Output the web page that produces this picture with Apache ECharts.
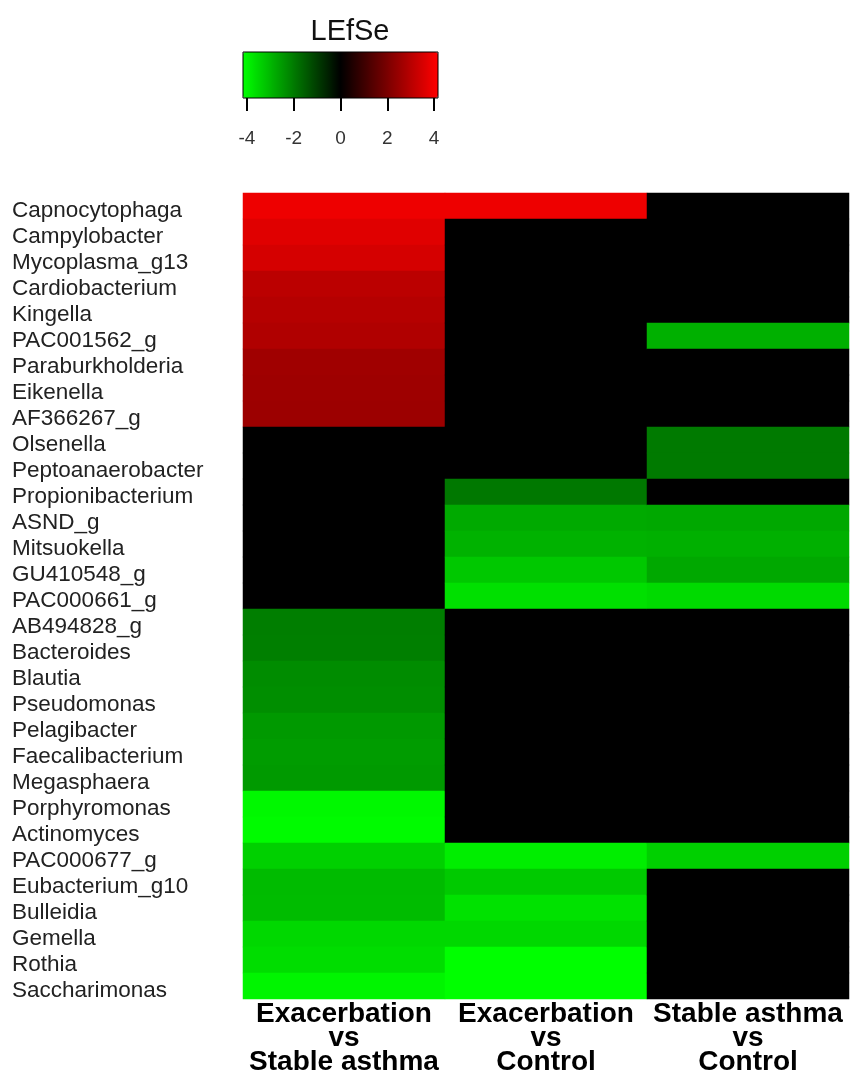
<!DOCTYPE html>
<html>
<head>
<meta charset="utf-8">
<script src="https://cdn.jsdelivr.net/npm/echarts@6/dist/echarts.min.js"></script>
<style>
  html, body { margin: 0; padding: 0; background: #fff; }
  #chart { width: 850px; height: 1076px; }
</style>
</head>
<body>
<div id="chart"></div>
<script>
// 行：菌属
const genera = [
  "Capnocytophaga", "Campylobacter", "Mycoplasma_g13", "Cardiobacterium", "Kingella",
  "PAC001562_g", "Paraburkholderia", "Eikenella", "AF366267_g", "Olsenella",
  "Peptoanaerobacter", "Propionibacterium", "ASND_g", "Mitsuokella", "GU410548_g",
  "PAC000661_g", "AB494828_g", "Bacteroides", "Blautia", "Pseudomonas",
  "Pelagibacter", "Faecalibacterium", "Megasphaera", "Porphyromonas", "Actinomyces",
  "PAC000677_g", "Eubacterium_g10", "Bulleidia", "Gemella", "Rothia", "Saccharimonas"
];
// 列：比较组
const comparisons = [
  "Exacerbation\nvs\nStable asthma",
  "Exacerbation\nvs\nControl",
  "Stable asthma\nvs\nControl"
];
// LEfSe 分数（每列一个数组，顺序同 genera）
const exaVsStable = [
  3.9, 3.66, 3.48, 3.06, 2.96, 2.88, 2.62, 2.58, 2.55, 0,
  0, 0, 0, 0, 0, 0, -2.06, -2.08, -2.29, -2.32,
  -2.5, -2.55, -2.52, -4.05, -4.1, -3.4, -3.06, -3.08, -3.53, -3.61, -4.0
];
const exaVsControl = [
  3.9, 0, 0, 0, 0, 0, 0, 0, 0, 0,
  0, -1.96, -2.78, -2.91, -3.27, -3.66, 0, 0, 0, 0,
  0, 0, 0, 0, 0, -3.89, -3.3, -3.7, -3.53, -4.17, -4.17
];
const stableVsControl = [
  0, 0, 0, 0, 0, -2.88, 0, 0, 0, -2.0,
  -2.0, 0, -2.75, -2.88, -2.75, -3.57, 0, 0, 0, 0,
  0, 0, 0, 0, 0, -3.4, 0, 0, 0, 0, 0
];
const colorTicks = [-4, -2, 0, 2, 4];
const scaleMax = 4.17;

const columns = [exaVsStable, exaVsControl, stableVsControl];
const heatData = [];
columns.forEach((col, x) => {
  col.forEach((v, y) => heatData.push([x, y, v]));
});

const chart = echarts.init(document.getElementById("chart"));
// 行高取整数（26px），并关闭 outerBounds 收缩，避免格子之间出现细缝
const option = {
  backgroundColor: "#fff",
  animation: false,
  title: {
    text: "LEfSe",
    left: 345,
    top: 12,
    textAlign: "center",
    textStyle: { fontFamily: "Liberation Sans", fontSize: 29, fontWeight: "normal", color: "#111" }
  },
  grid: [
    { left: 243, top: 193, width: 606, height: 806, outerBoundsMode: "none" },
    // 色标的边框和刻度
    { left: 243, top: 52, width: 195, height: 46, show: true, borderColor: "#000", borderWidth: 1, backgroundColor: "transparent", z: 10, outerBoundsMode: "none" }
  ],
  xAxis: [
    {
      type: "category",
      data: comparisons,
      gridIndex: 0,
      position: "bottom",
      axisLine: { show: false },
      axisTick: { show: false },
      splitLine: { show: false },
      axisLabel: {
        interval: 0,
        margin: 3,
        fontFamily: "Liberation Sans",
        fontSize: 28,
        fontWeight: "bold",
        lineHeight: 24,
        color: "#000",
        verticalAlign: "top"
      }
    },
    {
      type: "value",
      gridIndex: 1,
      min: -scaleMax,
      max: scaleMax,
      position: "bottom",
      axisLine: { show: false },
      splitLine: { show: false },
      axisTick: { show: true, length: 13, customValues: colorTicks, lineStyle: { color: "#000", width: 2 } },
      axisLabel: {
        customValues: colorTicks,
        margin: 31,
        fontFamily: "Liberation Sans",
        fontSize: 19,
        color: "#333"
      }
    }
  ],
  yAxis: [
    {
      type: "category",
      data: genera,
      gridIndex: 0,
      inverse: true,
      axisLine: { show: false },
      axisTick: { show: false },
      splitLine: { show: false },
      axisLabel: {
        interval: 0,
        align: "left",
        margin: 231,
        verticalAlign: "top",
        lineHeight: 10,
        fontFamily: "Liberation Sans",
        fontSize: 22.5,
        color: "#222"
      }
    },
    { type: "value", gridIndex: 1, show: false, min: 0, max: 1 }
  ],
  visualMap: {
    type: "continuous",
    min: -scaleMax,
    max: scaleMax,
    dimension: 2,
    seriesIndex: 0,
    orient: "horizontal",
    calculable: false,
    showLabel: false,
    text: null,
    left: 243,
    top: 52,
    padding: 0,
    itemWidth: 46,
    itemHeight: 195,
    inRange: { color: ["#00FF00", "#000000", "#FF0000"] }
  },
  series: [
    {
      type: "heatmap",
      xAxisIndex: 0,
      yAxisIndex: 0,
      data: heatData,
      itemStyle: { borderWidth: 0 },
      emphasis: { disabled: true }
    }
  ]
};
chart.setOption(option);
</script>
</body>
</html>
